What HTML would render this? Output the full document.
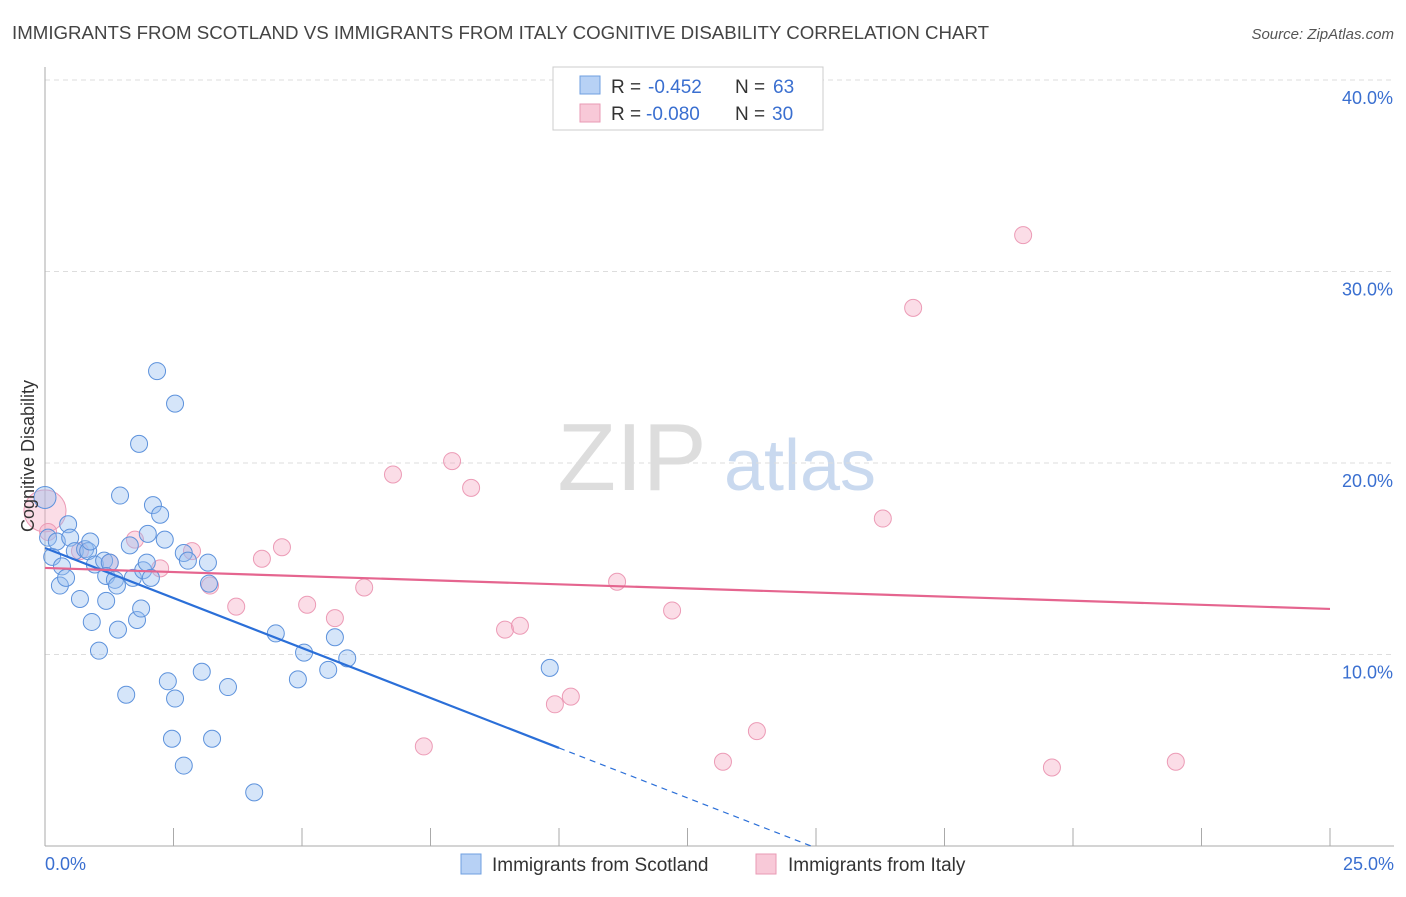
<!DOCTYPE html>
<html><head><meta charset="utf-8"><style>
body{margin:0;background:#fff;font-family:"Liberation Sans",sans-serif;}
svg text{font-family:"Liberation Sans",sans-serif;}
</style></head><body>
<svg id="chart" width="1406" height="892" xmlns="http://www.w3.org/2000/svg">
<text x="12" y="39" font-size="18.7" fill="#444">IMMIGRANTS FROM SCOTLAND VS IMMIGRANTS FROM ITALY COGNITIVE DISABILITY CORRELATION CHART</text>
<text x="1394" y="39" font-size="15" fill="#555" text-anchor="end" font-style="italic">Source: ZipAtlas.com</text>
<g>
<text x="632" y="490" font-size="96" fill="#ddd" font-family="Liberation Serif" text-anchor="middle">ZIP</text>
<text x="800" y="490" font-size="72" fill="#c9d9ef" text-anchor="middle">atlas</text>
</g>
<g id="grid"></g>
<g id="axes"></g>
<g id="marks"></g>
<text transform="translate(34,456) rotate(-90)" font-size="18" fill="#333" text-anchor="middle">Cognitive Disability</text>
<g>
<rect x="553" y="67" width="270" height="63" fill="#fff" stroke="#ccc"/>
<rect x="580" y="76" width="20" height="18" fill="#b7d1f5" stroke="#6f9fe0"/>
<rect x="580" y="104" width="20" height="18" fill="#f8c9d8" stroke="#e99ab4"/>
<text x="611" y="93" font-size="19" fill="#333">R =</text>
<text x="648" y="93" font-size="19" fill="#3a6fd0">-0.452</text>
<text x="735" y="93" font-size="19" fill="#333">N =</text>
<text x="773" y="93" font-size="19" fill="#3a6fd0">63</text>
<text x="611" y="120" font-size="19" fill="#333">R =</text>
<text x="646" y="120" font-size="19" fill="#3a6fd0">-0.080</text>
<text x="735" y="120" font-size="19" fill="#333">N =</text>
<text x="772" y="120" font-size="19" fill="#3a6fd0">30</text>
</g>
<g>
<rect x="461" y="854" width="20" height="20" fill="#b7d1f5" stroke="#6f9fe0"/>
<text x="492" y="871" font-size="19" fill="#333">Immigrants from Scotland</text>
<rect x="756" y="854" width="20" height="20" fill="#f8c9d8" stroke="#e99ab4"/>
<text x="788" y="871" font-size="19" fill="#333">Immigrants from Italy</text>
</g>
</svg>
<script>
const xTicks=[0,2.5,5,7.5,10,12.5,15,17.5,20,22.5,25];
const yTicks=[10,20,30,40];
const yTickLabels=["10.0%","20.0%","30.0%","40.0%"];
const xLabels=["0.0%","25.0%"];
const scotX=[0,.06,.14,.23,.33,.29,.41,.45,.49,.58,.68,.78,.84,.88,.91,.97,1.05,1.15,1.19,1.26,1.19,1.36,1.42,1.40,1.46,1.58,1.65,1.71,1.79,1.87,1.83,1.91,1.98,2.00,2.06,2.10,2.18,2.24,2.33,2.39,2.47,2.53,2.53,2.70,2.70,2.78,3.05,3.17,3.19,3.25,3.56,4.07,4.49,4.92,5.04,5.51,5.64,5.88,9.82];
const scotY=[18.2,16.1,15.1,15.9,14.6,13.6,14.0,16.8,16.1,15.4,12.9,15.5,15.4,15.9,11.7,14.7,10.2,14.9,12.8,14.8,14.1,13.9,11.3,13.6,18.3,7.9,15.7,14.0,11.8,12.4,21.0,14.4,14.8,16.3,14.0,17.8,24.8,17.3,16.0,8.6,5.6,23.1,7.7,4.2,15.3,14.9,9.1,14.8,13.7,5.6,8.3,2.8,11.1,8.7,10.1,9.2,10.9,9.8,9.3];
const italyX=[0,.06,.68,1.26,1.75,2.24,2.86,3.21,3.72,4.22,4.61,5.10,5.64,6.21,6.77,7.37,7.92,8.29,8.95,9.24,9.92,10.23,11.13,12.20,13.85,13.19,16.30,16.89,19.03,19.59,22.00];
const italyY=[17.5,16.4,15.4,14.8,16.0,14.5,15.4,13.6,12.5,15.0,15.6,12.6,11.9,13.5,19.4,5.2,20.1,18.7,11.3,11.5,7.4,7.8,13.8,12.3,6.0,4.4,17.1,28.1,31.9,4.1,4.4];
const scotTrend=[15.56,-1.044];
const italyTrend=[14.52,-0.0856];
const NS="http://www.w3.org/2000/svg";
const X=v=>45+v/25*1285, Y=v=>846-v*19.15;
function mk(t,a,p){const e=document.createElementNS(NS,t);for(const k in a)e.setAttribute(k,a[k]);document.getElementById(p).appendChild(e);return e;}
yTicks.forEach((t,i)=>{
const g=mk('line',{x1:45,x2:1394,y1:Y(t),y2:Y(t),stroke:'#ddd','stroke-dasharray':'5,4'},'grid');


const l=mk('text',{x:1393,y:Y(t)+24,'font-size':18,fill:'#3a6fd0','text-anchor':'end'},'axes');l.textContent=yTickLabels[i];


});
mk('line',{x1:45,x2:45,y1:67,y2:846,stroke:'#aaa'},'axes');
const xa=mk('line',{x1:45,x2:1394,y1:846,y2:846,stroke:'#aaa'},'axes');


xTicks.forEach(t=>{const e=mk('line',{x1:X(t),x2:X(t),y1:828,y2:846,stroke:'#aaa'},'axes');

});
[[0,'start',45],[25,'end',1394]].forEach((a,i)=>{const e=mk('text',{x:a[2],y:870,'font-size':18,fill:'#3a6fd0','text-anchor':a[1]},'axes');e.textContent=xLabels[i];

});
italyX.forEach((x,i)=>{const c=mk('circle',{cx:X(x),cy:Y(italyY[i]),r:i==0?21:8.5,fill:'rgba(245,170,195,0.4)',stroke:'#ec9bb6','stroke-width':1},'marks');

});
scotX.forEach((x,i)=>{const c=mk('circle',{cx:X(x),cy:Y(scotY[i]),r:i==0?11:8.5,fill:'rgba(150,190,240,0.4)',stroke:'#5d92dc','stroke-width':1},'marks');

});
const sEnd=-scotTrend[0]/scotTrend[1];
const s1=mk('line',{x1:X(0),y1:Y(scotTrend[0]),x2:X(10),y2:Y(scotTrend[0]+scotTrend[1]*10),stroke:'#2b6fd8','stroke-width':2.2},'marks');


const s2=mk('line',{x1:X(10),y1:Y(scotTrend[0]+scotTrend[1]*10),x2:X(sEnd),y2:Y(0),stroke:'#2b6fd8','stroke-width':1.2,'stroke-dasharray':'6,5'},'marks');


const it=mk('line',{x1:X(0),y1:Y(italyTrend[0]),x2:X(25),y2:Y(italyTrend[0]+italyTrend[1]*25),stroke:'#e5658f','stroke-width':2.2},'marks');


</script>
</body></html>
